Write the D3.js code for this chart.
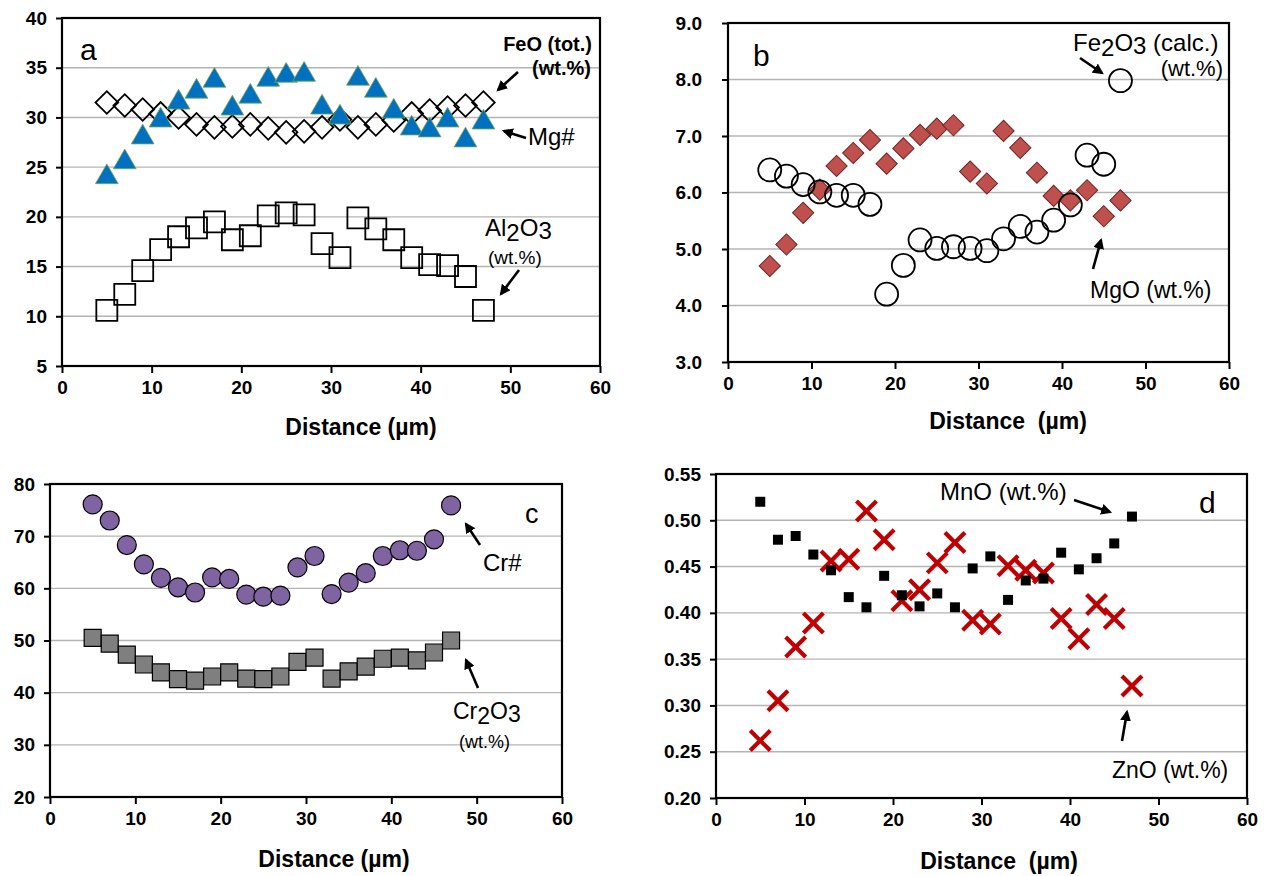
<!DOCTYPE html>
<html lang="en">
<head>
<meta charset="UTF-8">
<title>spinel profiles</title>
<style>
  body { margin: 0; background: #fff; }
  svg text { font-family: "Liberation Sans", Arial, sans-serif; fill: #000; }
</style>
</head>
<body>
<script src="https://cdn.jsdelivr.net/npm/d3@7"></script>
<script>
// distance along the profile (µm)
const dist = [5, 7, 9, 11, 13, 15, 17, 19, 21, 23, 25, 27, 29, 31, 33, 35, 37, 39, 41, 43, 45, 47];

// panel a
const feoTot = [31.5, 31.2, 30.8, 30.4, 30.0, 29.3, 29.0, 29.1, 29.3, 28.9, 28.5, 28.6, 29.0, 29.8, 29.0, 29.3, 29.7, 30.4, 30.7, 31.0, 31.2, 31.5];
const mgNum = [24.0, 25.5, 28.0, 29.7, 31.5, 32.6, 33.7, 30.9, 32.1, 33.8, 34.2, 34.3, 31.0, 30.0, 33.9, 32.7, 30.6, 28.9, 28.7, 29.7, 27.7, 29.5];
const al2o3 = [10.6, 12.2, 14.6, 16.7, 18.0, 18.9, 19.5, 17.7, 18.1, 20.1, 20.4, 20.2, 17.3, 15.9, 19.9, 18.8, 17.7, 15.9, 15.2, 15.1, 14.0, 10.6];

// panel b
const fe2o3 = [6.40, 6.29, 6.14, 6.01, 5.95, 5.95, 5.79, 4.20, 4.71, 5.16, 5.01, 5.04, 5.01, 4.97, 5.18, 5.40, 5.30, 5.51, 5.78, 6.66, 6.50, 7.98];
const mgo = [4.70, 5.08, 5.64, 6.05, 6.47, 6.70, 6.93, 6.51, 6.78, 7.02, 7.13, 7.19, 6.37, 6.16, 7.09, 6.79, 6.35, 5.94, 5.86, 6.04, 5.58, 5.86];

// panel c
const crNum = [76.1, 73.0, 68.3, 64.6, 62.0, 60.2, 59.2, 62.1, 61.8, 58.8, 58.4, 58.6, 64.0, 66.2, 58.9, 61.1, 62.9, 66.2, 67.3, 67.2, 69.4, 75.9];
const cr2o3 = [50.5, 49.4, 47.3, 45.4, 43.9, 42.6, 42.3, 43.1, 43.9, 42.7, 42.6, 43.1, 45.9, 46.7, 42.7, 44.1, 45.0, 46.5, 46.7, 46.2, 47.7, 50.0];

// panel d
const mno = [0.520, 0.479, 0.483, 0.463, 0.446, 0.417, 0.406, 0.440, 0.419, 0.407, 0.421, 0.406, 0.448, 0.461, 0.414, 0.435, 0.437, 0.465, 0.447, 0.459, 0.475, 0.504];
const zno = [0.262, 0.305, 0.363, 0.389, 0.456, 0.458, 0.510, 0.479, 0.413, 0.425, 0.454, 0.476, 0.392, 0.388, 0.451, 0.446, 0.443, 0.394, 0.372, 0.409, 0.394, 0.321];

// ticks
const xTicks = [0, 10, 20, 30, 40, 50, 60];
const yTicksA = [5, 10, 15, 20, 25, 30, 35, 40];
const yTicksB = [3, 4, 5, 6, 7, 8, 9];
const yTicksC = [20, 30, 40, 50, 60, 70, 80];
const yTicksD = [0.20, 0.25, 0.30, 0.35, 0.40, 0.45, 0.50, 0.55];

const svg = d3.select('body').append('svg')
  .attr('width', 1265)
  .attr('height', 876);

// arrow head
svg.append('defs').append('marker')
  .attr('id', 'head')
  .attr('viewBox', '0 0 10 10')
  .attr('refX', 8).attr('refY', 5)
  .attr('markerWidth', 4.2).attr('markerHeight', 4.2)
  .attr('orient', 'auto')
  .append('path')
  .attr('d', 'M0,0 L10,5 L0,10 z')
  .attr('fill', '#000');

// frame, grid, axes, title; returns scales and group
function panel(box, yDomain, yTicks, fmt, title, labelGap) {
  const x = d3.scaleLinear().domain([0, 60]).range([box.l, box.r]);
  const y = d3.scaleLinear().domain(yDomain).range([box.b, box.t]);
  const g = svg.append('g');

  g.selectAll('line.grid')
    .data(yTicks.slice(1, -1))
    .enter().append('line')
    .attr('x1', box.l).attr('x2', box.r)
    .attr('y1', d => y(d)).attr('y2', d => y(d))
    .attr('stroke', '#b4b4b4').attr('stroke-width', 1.4);

  g.append('rect')
    .attr('x', box.l).attr('y', box.t)
    .attr('width', box.r - box.l).attr('height', box.b - box.t)
    .attr('fill', 'none').attr('stroke', '#000').attr('stroke-width', 2.2);

  const ax = g.append('g')
    .attr('transform', `translate(0,${box.b})`)
    .call(d3.axisBottom(x).tickValues(xTicks).tickSize(7).tickPadding(8));
  const ay = g.append('g')
    .attr('transform', `translate(${box.l},0)`)
    .call(d3.axisLeft(y).tickValues(yTicks).tickFormat(fmt).tickSize(6).tickPadding(labelGap));
  [ax, ay].forEach(a => {
    a.select('.domain').remove();
    a.selectAll('.tick line').attr('stroke', '#000').attr('stroke-width', 2);
    a.selectAll('.tick text')
      .attr('font-family', '"Liberation Sans", Arial, sans-serif')
      .attr('font-size', 19).attr('font-weight', 'bold');
  });

  g.append('text')
    .attr('x', title.x)
    .attr('y', title.y)
    .attr('text-anchor', 'middle')
    .style('font-size', '23px').style('font-weight', 'bold')
    .text(title.text);

  return { x, y, g };
}

function arrow(g, x1, y1, x2, y2) {
  g.append('line')
    .attr('x1', x1).attr('y1', y1).attr('x2', x2).attr('y2', y2)
    .attr('stroke', '#000').attr('stroke-width', 2.6)
    .attr('marker-end', 'url(#head)');
}

function label(g, x, y, size, parts, opts = {}) {
  const t = g.append('text')
    .attr('x', x).attr('y', y)
    .style('font-size', size + 'px')
    .style('font-weight', opts.bold ? 'bold' : 'normal')
    .attr('text-anchor', opts.anchor || 'start');
  parts.forEach(p => {
    if (typeof p === 'string') t.append('tspan').text(p);
    else t.append('tspan').attr('dy', p.dy).text(p.t);
  });
  return t;
}

// chemical formula with subscripts, e.g. X2O3
function formula(a, tail) {
  const parts = [a, { t: '2', dy: 5 }, { t: 'O', dy: -5 }, { t: '3', dy: 3 }];
  if (tail) parts.push({ t: tail, dy: -3 });
  return parts;
}

const sq = d3.symbol().type(d3.symbolSquare);

// ---------- a ----------
const A = panel({ l: 62, r: 600, t: 18, b: 366 }, [5, 40], yTicksA, d3.format('d'),
  { x: 361, y: 435, text: 'Distance (µm)' }, 9);

A.g.selectAll('path.al')
  .data(dist).enter().append('path')
  .attr('d', sq.size(21 * 21))
  .attr('transform', (d, i) => `translate(${A.x(d)},${A.y(al2o3[i])})`)
  .attr('fill', 'none').attr('stroke', '#000').attr('stroke-width', 1.8);

A.g.selectAll('path.feo')
  .data(dist).enter().append('path')
  .attr('d', sq.size(16 * 16))
  .attr('transform', (d, i) => `translate(${A.x(d)},${A.y(feoTot[i])}) rotate(45)`)
  .attr('fill', 'none').attr('stroke', '#000').attr('stroke-width', 1.8);

A.g.selectAll('path.mg')
  .data(dist).enter().append('path')
  .attr('d', d3.symbol().type(d3.symbolTriangle).size(225))
  .attr('transform', (d, i) => `translate(${A.x(d)},${A.y(mgNum[i])})`)
  .attr('fill', '#0070c0').attr('stroke', '#7aa84a').attr('stroke-width', 0.8);

A.g.append('text').attr('x', 80).attr('y', 60).style('font-size', '30px').text('a');
label(A.g, 592, 51, 20, ['FeO (tot.)'], { bold: true, anchor: 'end' });
label(A.g, 591, 75, 20, ['(wt.%)'], { bold: true, anchor: 'end' });
arrow(A.g, 518, 72, 498, 90);
label(A.g, 528, 145, 24, ['Mg#']);
arrow(A.g, 526, 138, 504, 131);
label(A.g, 485, 236, 24, formula('Al'));
label(A.g, 488, 264, 19, ['(wt.%)']);
arrow(A.g, 519, 270, 501, 294);

// ---------- b ----------
const B = panel({ l: 728, r: 1229, t: 23, b: 362 }, [3, 9], yTicksB, d3.format('.1f'),
  { x: 1008, y: 429, text: 'Distance\u00a0 (µm)' }, 20);

B.g.selectAll('path.mgo')
  .data(dist).enter().append('path')
  .attr('d', sq.size(15 * 15))
  .attr('transform', (d, i) => `translate(${B.x(d)},${B.y(mgo[i])}) rotate(45)`)
  .attr('fill', '#c0504d').attr('stroke', '#6b2523').attr('stroke-width', 1);

B.g.selectAll('circle.fe')
  .data(dist).enter().append('circle')
  .attr('cx', d => B.x(d))
  .attr('cy', (d, i) => B.y(fe2o3[i]))
  .attr('r', 11.5)
  .attr('fill', 'none').attr('stroke', '#000').attr('stroke-width', 1.8);

B.g.append('text').attr('x', 753).attr('y', 66).style('font-size', '30px').text('b');
label(B.g, 1073, 51, 24, formula('Fe', ' (calc.)'));
label(B.g, 1223, 76, 22, ['(wt.%)'], { anchor: 'end' });
arrow(B.g, 1080, 58, 1102, 73);
label(B.g, 1090, 298, 23, ['MgO (wt.%)']);
arrow(B.g, 1093, 269, 1101, 240);

// ---------- c ----------
const C = panel({ l: 50, r: 562, t: 484, b: 797 }, [20, 80], yTicksC, d3.format('d'),
  { x: 334, y: 867, text: 'Distance (µm)' }, 9);

C.g.selectAll('path.cr2o3')
  .data(dist).enter().append('path')
  .attr('d', sq.size(17 * 17))
  .attr('transform', (d, i) => `translate(${C.x(d)},${C.y(cr2o3[i])})`)
  .attr('fill', '#7f7f7f').attr('stroke', '#000').attr('stroke-width', 1.2);

C.g.selectAll('circle.cr')
  .data(dist).enter().append('circle')
  .attr('cx', d => C.x(d))
  .attr('cy', (d, i) => C.y(crNum[i]))
  .attr('r', 9.5)
  .attr('fill', '#8064a2').attr('stroke', '#000').attr('stroke-width', 1.2);

C.g.append('text').attr('x', 525).attr('y', 523).style('font-size', '27px').text('c');
label(C.g, 483, 571, 24, ['Cr#']);
arrow(C.g, 480, 545, 466, 524);
label(C.g, 453, 719, 23, formula('Cr'));
label(C.g, 459, 748, 18, ['(wt.%)']);
arrow(C.g, 478, 688, 466, 660);

// ---------- d ----------
const D = panel({ l: 716, r: 1247, t: 474, b: 798 }, [0.2, 0.55], yTicksD, d3.format('.2f'),
  { x: 999, y: 869, text: 'Distance\u00a0 (µm)' }, 9);

const xh = 10;
const zg = D.g.selectAll('g.zn').data(dist).enter().append('g')
  .attr('transform', (d, i) => `translate(${D.x(d)},${D.y(zno[i])})`);
zg.append('line').attr('x1', -xh).attr('y1', -xh).attr('x2', xh).attr('y2', xh);
zg.append('line').attr('x1', -xh).attr('y1', xh).attr('x2', xh).attr('y2', -xh);
zg.selectAll('line').attr('stroke', '#c00000').attr('stroke-width', 4.2);

D.g.selectAll('path.mn')
  .data(dist).enter().append('path')
  .attr('d', sq.size(10 * 10))
  .attr('transform', (d, i) => `translate(${D.x(d)},${D.y(mno[i])})`)
  .attr('fill', '#000');

D.g.append('text').attr('x', 1199).attr('y', 513).style('font-size', '30px').text('d');
label(D.g, 940, 500, 24, ['MnO (wt.%)']);
arrow(D.g, 1074, 500, 1110, 512);
label(D.g, 1112, 778, 23, ['ZnO (wt.%)']);
arrow(D.g, 1122, 741, 1127, 712);
</script>
</body>
</html>
